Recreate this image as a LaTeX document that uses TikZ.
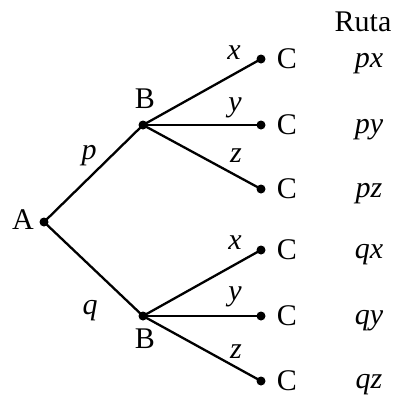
\documentclass[tikz,border=0pt]{standalone}
\usepackage{fontspec}
\setmainfont{Liberation Serif}
\begin{document}
\begin{tikzpicture}[x=1pt,y=-1pt,
  dot/.style={circle,fill=black,inner sep=0pt,minimum size=9pt},
  lbl/.style={font=\fontsize{30}{34}\selectfont,inner sep=0pt},
  ilbl/.style={font=\fontsize{30}{34}\selectfont\itshape,inner sep=0pt},
  edge/.style={line width=2.3pt}]
\useasboundingbox (0,0) rectangle (396,397);
\node[dot] (A) at (44,222) {};
\node[dot] (B1) at (143,125) {};
\node[dot] (B2) at (143,316) {};
\node[dot] (C1) at (261,59) {};
\node[dot] (C2) at (261,125) {};
\node[dot] (C3) at (261,189) {};
\node[dot] (C4) at (261,250) {};
\node[dot] (C5) at (261,316) {};
\node[dot] (C6) at (261,381) {};
\draw[edge] (A.center) -- (B1.center);
\draw[edge] (A.center) -- (B2.center);
\foreach \c in {C1,C2,C3} \draw[edge] (B1.center) -- (\c.center);
\foreach \c in {C4,C5,C6} \draw[edge] (B2.center) -- (\c.center);
\node[lbl] (lA) at (23,220) {A};
\node[lbl] (lB1) at (145,99) {B};
\node[lbl] (lB2) at (145,339) {B};
\foreach \c/\y in {C1/59,C2/125,C3/189,C4/250,C5/316,C6/381}
  \node[lbl] (l\c) at (287,\y) {C};
\node[ilbl] (lp) at (89,156) {p};
\node[ilbl] (lq) at (90,311) {q};
\node[ilbl] (x1) at (234,53) {x};
\node[ilbl] (y1) at (235,108) {y};
\node[ilbl] (z1) at (236,156) {z};
\node[ilbl] (x2) at (235,243) {x};
\node[ilbl] (y2) at (235,297) {y};
\node[ilbl] (z2) at (236,352) {z};
\node[lbl] (ruta) at (363,22) {Ruta};
\node[ilbl] (r1) at (369,64) {px};
\node[ilbl] (r2) at (369,130) {py};
\node[ilbl] (r3) at (369,194) {pz};
\node[ilbl] (r4) at (369,255) {qx};
\node[ilbl] (r5) at (369,321) {qy};
\node[ilbl] (r6) at (369,385) {qz};
\end{tikzpicture}
\end{document}
